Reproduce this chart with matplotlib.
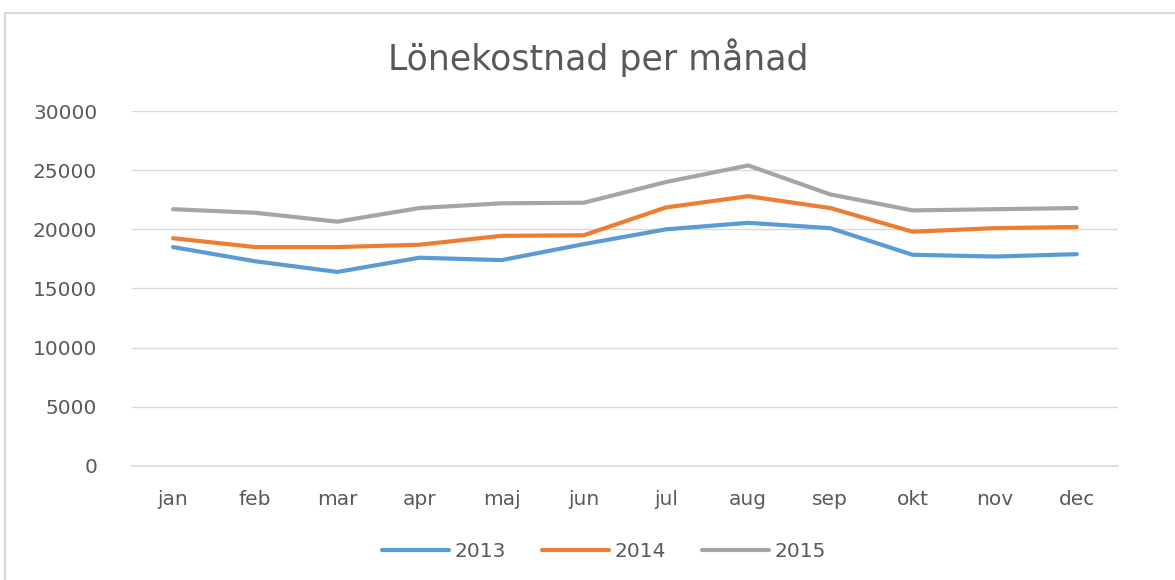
import matplotlib.pyplot as plt
from matplotlib.patches import Rectangle

# data
months = ['jan', 'feb', 'mar', 'apr', 'maj', 'jun', 'jul', 'aug', 'sep', 'okt', 'nov', 'dec']
y2013 = [18500, 17300, 16400, 17600, 17400, 18750, 20000, 20550, 20100, 17850, 17700, 17900]
y2014 = [19250, 18500, 18500, 18700, 19450, 19500, 21850, 22800, 21800, 19800, 20100, 20200]
y2015 = [21700, 21400, 20650, 21800, 22200, 22250, 24000, 25400, 22950, 21600, 21700, 21800]
years = ['2013', '2014', '2015']
colors = ['#5B9BD5', '#ED7D31', '#A5A5A5']

plt.rcParams['font.family'] = ['DejaVu Sans']
text_color = '#595959'

fig = plt.figure(figsize=(11.75, 5.8), dpi=100)
ax = fig.add_axes([0.1123, 0.1966, 0.8391, 0.612])

x = range(len(months))
for vals, lab, col in zip([y2013, y2014, y2015], years, colors):
    ax.plot(x, vals, color=col, linewidth=3, label=lab, solid_capstyle='round', solid_joinstyle='round')

ax.set_xlim(-0.5, len(months) - 0.5)
ax.set_ylim(0, 30000)
ax.set_yticks(range(0, 30001, 5000))
ax.set_xticks(list(x))
ax.set_xticklabels(months)
ax.grid(axis='y', color='#D9D9D9', linewidth=1)
ax.axhline(0, color='#D9D9D9', linewidth=1.2, clip_on=False, zorder=0.5)
ax.set_axisbelow(True)
for s in ax.spines.values():
    s.set_visible(False)
ax.tick_params(length=0, labelsize=14.5, colors=text_color)
ax.tick_params(axis='x', pad=17)
ax.tick_params(axis='y', pad=25)

fig.text(598 / 1175, 0.90, 'Lönekostnad per månad', ha='center', va='center', fontsize=25, color=text_color)

ax.legend(loc='center', bbox_to_anchor=(0.479, -0.24), ncol=3, frameon=False, fontsize=14.5,
          handlelength=3.3, handletextpad=0.3, columnspacing=1.8, labelcolor=text_color)

# chart border, partially cut off like the screenshot
fig.patches.append(Rectangle((5 / 1175, -0.1), 1.2, 1 - 13 / 580 + 0.1, transform=fig.transFigure,
                             fill=False, edgecolor='#D9D9D9', linewidth=1.5))

fig.savefig('out.png', dpi=100)
